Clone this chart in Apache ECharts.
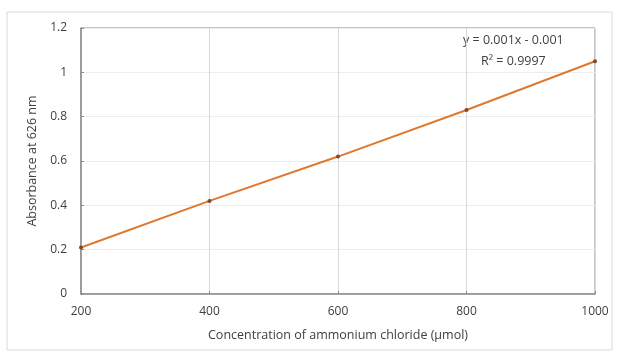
<!DOCTYPE html>
<html><head><meta charset="utf-8">
<script src="https://cdn.jsdelivr.net/npm/echarts@6/dist/echarts.min.js"></script>
<style>html,body{margin:0;padding:0;background:#fff}#c{width:619px;height:354px}</style>
</head><body><div id="c"></div>
<script>
const concentrations = [200, 400, 600, 800, 1000];
const absorbance = [0.21, 0.42, 0.62, 0.83, 1.05];
const equationText = 'y = 0.001x - 0.001';
const r2Text = 'R² = 0.9997';
const xTitle = 'Concentration of ammonium chloride (µmol)';
const yTitle = 'Absorbance at 626 nm';

const chart = echarts.init(document.getElementById('c'));
const font = '"Open Sans", "Liberation Sans", sans-serif';
const txt = '#404040';
chart.setOption({
  animation: false,
  grid: {left:81, right:24, top:28, bottom:60, show:true, borderColor:'#8c8c8c', borderWidth:1},
  xAxis: {type:'value', min:200, max:1000, interval:200,
    name:xTitle, nameLocation:'middle', nameGap:35,
    nameTextStyle:{fontFamily:font, fontSize:12.5, color:txt},
    axisLine:{show:true, lineStyle:{color:'#8c8c8c', width:1.5}},
    axisTick:{show:true, inside:true, length:3, lineStyle:{color:'#8c8c8c'}},
    axisLabel:{fontFamily:font, fontSize:12, color:txt, margin:12, formatter: v => String(v)},
    splitLine:{show:true, lineStyle:{color:'#d9d9d9'}}},
  yAxis: {type:'value', min:0, max:1.2, interval:0.2,
    name:yTitle, nameLocation:'middle', nameGap:40,
    nameTextStyle:{fontFamily:font, fontSize:12.5, color:txt},
    axisLine:{show:true, lineStyle:{color:'#8c8c8c', width:1.5}},
    axisTick:{show:true, inside:true, length:3, lineStyle:{color:'#8c8c8c'}},
    axisLabel:{fontFamily:font, fontSize:12, color:txt, margin:14, formatter: v => String(+v.toFixed(1))},
    splitLine:{show:true, lineStyle:{color:'#ececec'}}},
  series: [{
    type:'line', data: concentrations.map((x,i)=>[x, absorbance[i]]),
    lineStyle:{color:'#E0782F', width:2},
    symbol:'circle', symbolSize:4, itemStyle:{color:'#7a4a30'}
  }],
  graphic: [
    {type:'rect', shape:{x:7,y:12,width:605,height:338}, style:{fill:'none', stroke:'#d9d9d9', lineWidth:1}},
    {type:'text', left:463, top:34, style:{text:equationText, font:'12.5px '+font, fill:txt}},
    {type:'text', left:481, top:55, style:{text:r2Text, font:'12.5px '+font, fill:txt}}
  ]
});
</script></body></html>
